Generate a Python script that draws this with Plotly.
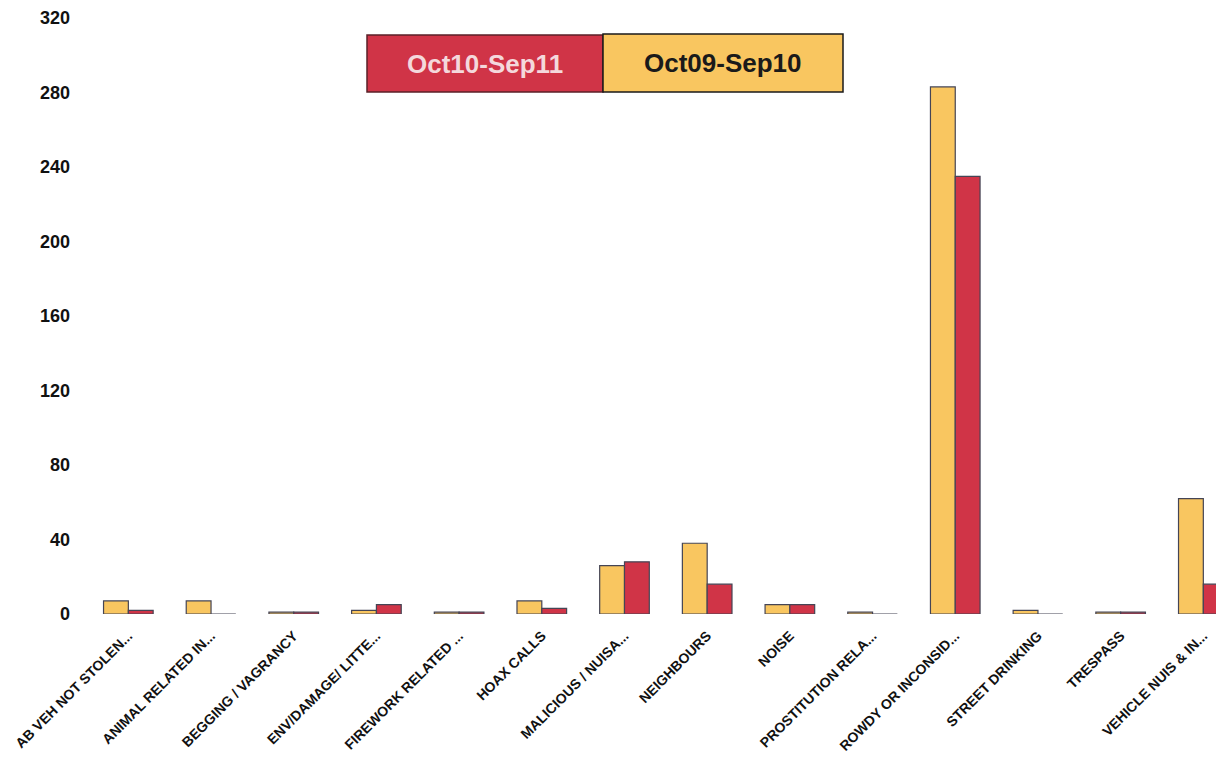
import plotly.graph_objects as go

categories = ["AB VEH NOT STOLEN...", "ANIMAL RELATED IN...", "BEGGING / VAGRANCY",
              "ENV/DAMAGE/ LITTE...", "FIREWORK RELATED ...", "HOAX CALLS",
              "MALICIOUS / NUISA...", "NEIGHBOURS", "NOISE", "PROSTITUTION RELA...",
              "ROWDY OR INCONSID...", "STREET DRINKING", "TRESPASS", "VEHICLE NUIS & IN..."]
oct09_sep10 = [7, 7, 1, 2, 1, 7, 26, 38, 5, 1, 283, 2, 1, 62]
oct10_sep11 = [2, 0, 1, 5, 1, 3, 28, 16, 5, 0, 235, 0, 1, 16]
y_ticks = [0, 40, 80, 120, 160, 200, 240, 280, 320]

YELLOW = "#F9C660"
RED = "#D03447"
EDGE = "#454555"

OFF = 8  # page body margin
W, H = 1224 - OFF, 758 - OFF
L, R, T, B = 87 - OFF, 0, 18 - OFF, 144

fig = go.Figure()
fig.add_trace(go.Bar(x=categories, y=oct09_sep10, name="Oct09-Sep10",
                     marker=dict(color=YELLOW, line=dict(color=EDGE, width=1.2))))
fig.add_trace(go.Bar(x=categories, y=oct10_sep11, name="Oct10-Sep11",
                     marker=dict(color=RED, line=dict(color=EDGE, width=1.2))))

pw, ph = W - L - R, H - T - B
def px(x): return (x - OFF - L) / pw
def py(y): return (H - B - (y - OFF)) / ph

fig.add_shape(type="rect", xref="paper", yref="paper", x0=px(367), x1=px(603), y0=py(92), y1=py(35),
              fillcolor=RED, line=dict(color="#5a2028", width=1.5))
fig.add_shape(type="rect", xref="paper", yref="paper", x0=px(603), x1=px(843), y0=py(92), y1=py(34),
              fillcolor=YELLOW, line=dict(color="#1a1a1a", width=1.5))
fig.add_annotation(xref="paper", yref="paper", x=px(485), y=py(64), text="<b>Oct10-Sep11</b>",
                   xanchor="center", yanchor="middle", showarrow=False,
                   font=dict(family="Liberation Sans, Arial", size=26, color="#f4d8dc"))
fig.add_annotation(xref="paper", yref="paper", x=px(723), y=py(63), text="<b>Oct09-Sep10</b>",
                   xanchor="center", yanchor="middle", showarrow=False,
                   font=dict(family="Liberation Sans, Arial", size=26, color="#1a1a1a"))

fig.update_layout(
    width=W, height=H,
    margin=dict(l=L, r=R, t=T, b=B),
    plot_bgcolor="white", paper_bgcolor="white",
    barmode="group", bargap=0.4, bargroupgap=0,
    showlegend=False,
    font=dict(family="Liberation Sans, Arial", color="#111"),
)
fig.update_xaxes(range=[-0.5, 13.25], tickangle=-45, showgrid=False, showline=False, ticks="",
                 ticklabelstandoff=10,
                 tickfont=dict(size=14, family="Liberation Sans, Arial", weight="bold"))
fig.update_yaxes(range=[0, 320], tickvals=y_ticks, showgrid=False, zeroline=False, showline=False,
                 ticks="", ticklabelstandoff=16,
                 tickfont=dict(size=18, family="Liberation Sans, Arial", weight="bold"))

fig.write_html("out.html")
